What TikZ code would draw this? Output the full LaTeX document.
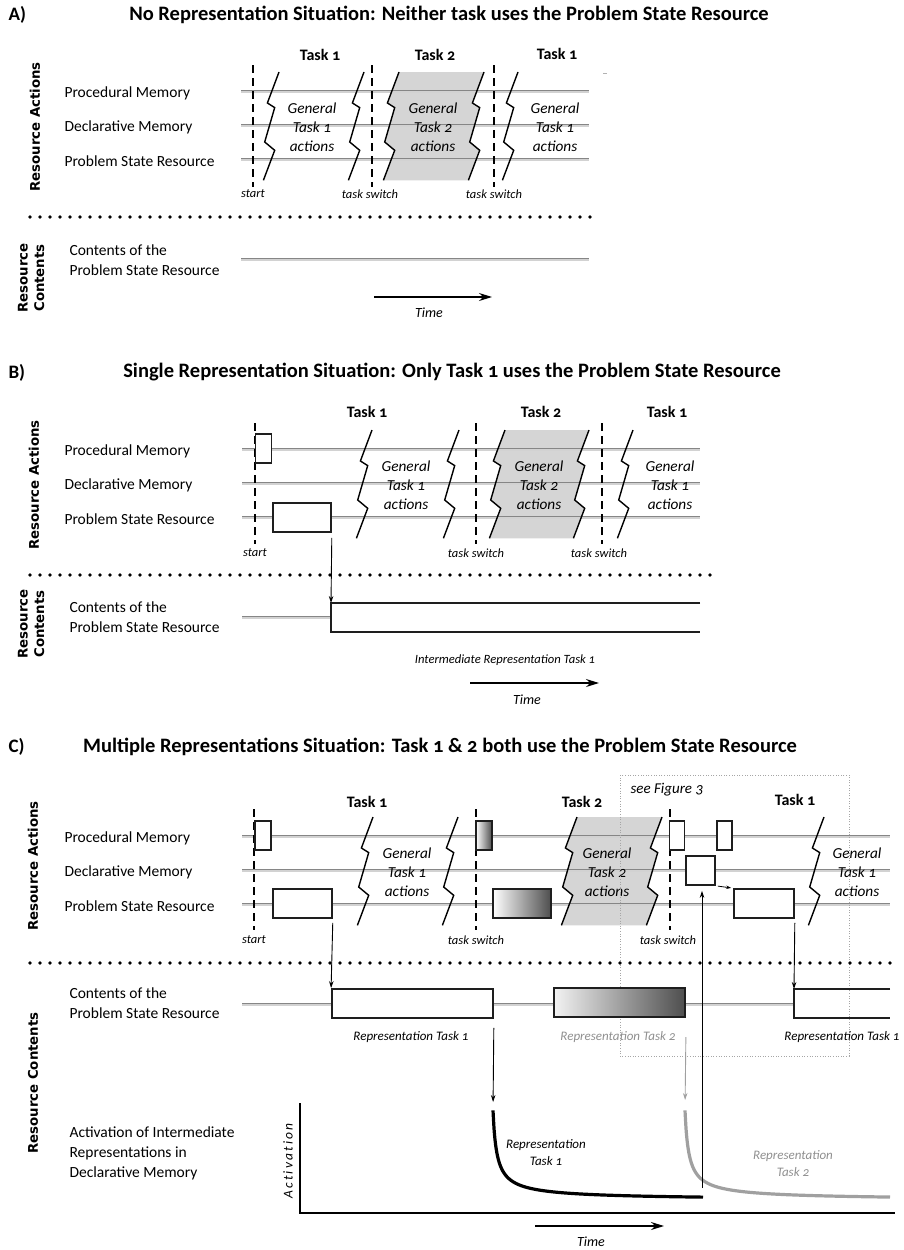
\documentclass[tikz,border=0pt]{standalone}
\usepackage{fontspec}
\setmainfont{Carlito}[Numbers=OldStyle]
\newfontfamily\sidefont{DejaVu Sans}
\usetikzlibrary{arrows.meta}

\definecolor{trackdark}{HTML}{868686}
\definecolor{tracklight}{HTML}{D2D2D2}
\definecolor{bandgray}{HTML}{D5D5D5}
\definecolor{fadegray}{HTML}{8F8F8F}
\definecolor{curvegray}{HTML}{A0A0A0}
\definecolor{shadeend}{HTML}{4E4E4E}
\definecolor{boxedge}{HTML}{1E1E1E}

\tikzset{
  trackdk/.style={draw=trackdark, line width=1.5pt},
  tracklt/.style={draw=tracklight, line width=1.8pt},
  brk/.style={draw=black, line width=1.4pt, line join=miter},
  switchline/.style={draw=black, line width=1.3pt, dash pattern=on 8pt off 5pt},
  actbox/.style={draw=boxedge, line width=1.7pt, fill=white, inner sep=0pt, minimum height=29pt},
  contedge/.style={draw=boxedge, line width=1.8pt},
  sepdots/.style={draw=black, line width=3.8pt, line cap=round, dash pattern=on 0pt off 10pt},
  seefig/.style={draw=gray!70, line width=0.9pt, dash pattern=on 1pt off 1.6pt},
  thinarrow/.style={draw=black, line width=0.9pt, -{Stealth[length=7pt,width=4.5pt]}},
  grayarrow/.style={draw=curvegray, line width=0.9pt, -{Stealth[length=7pt,width=4.5pt]}},
  smallarrow/.style={draw=black, line width=0.8pt, -{Stealth[length=5pt,width=3.5pt]}},
  timearrow/.style={draw=black, line width=1.4pt, -{Stealth[length=13pt,width=8pt]}},
  axisline/.style={draw=black, line width=1.6pt},
  decay/.style={line width=3.2pt, line cap=butt},
  paneltitle/.style={font=\bfseries\fontsize{20.5}{23}\selectfont},
  panelletter/.style={font=\bfseries\fontsize{19}{22}\selectfont, anchor=west},
  taskhd/.style={font=\bfseries\fontsize{16}{19}\selectfont},
  rowlab/.style={font=\fontsize{15.5}{20}\selectfont, anchor=west, align=left},
  general/.style={font=\itshape\fontsize{15.3}{19}\selectfont, align=center},
  eventlab/.style={font=\itshape\fontsize{12.5}{15}\selectfont},
  timelab/.style={font=\itshape\fontsize{14}{16}\selectfont},
  replab/.style={font=\itshape\fontsize{13}{17}\selectfont, align=center},
  sidelab/.style={font=\sidefont\bfseries\fontsize{13.3}{16.5}\selectfont, rotate=90, align=center},
}

% a time line of one resource: dark line with a light band under it
\newcommand{\rowtrack}[3]{%
  \draw[tracklt] (#1,{#3+1.2}) -- (#2,{#3+1.2});
  \draw[trackdk] (#1,{#3-0.4}) -- (#2,{#3-0.4});}
% break mark between stretches of general task actions, given by its top point
\newcommand{\breakmark}[2]{%
  \draw[brk] (#1,#2) -- ++(-11.6,31) -- ++(7.3,4.6) -- ++(-10,34.4) -- ++(10,8.3) -- ++(-11.3,30);}
% shaded stretch of task 2 between two break marks
\newcommand{\taskband}[3]{%
  \fill[bandgray] (#1,#3) -- ++(-11.6,31) -- ++(7.3,4.6) -- ++(-10,34.4) -- ++(10,8.3) -- ++(-11.3,30)
    -- ({#2-15.6},{#3+108.3}) -- ++(11.3,-30) -- ++(-10,-8.3) -- ++(10,-34.4) -- ++(-7.3,-4.6) -- ++(11.6,-31) -- cycle;}

\begin{document}
\begin{tikzpicture}[x=1pt,y=-1pt]
\useasboundingbox (0,0) rectangle (904,1250);

%%%%%%%%%%%%%%%%%%%% A %%%%%%%%%%%%%%%%%%%%
\node[panelletter] (labA) at (5,15) {A)};
\node[paneltitle] (titleA) at (449,15) {No Representation Situation: Neither task uses the Problem State Resource};

\taskband{399}{484}{72}
\rowtrack{241}{589}{91}
\rowtrack{241}{589}{125}
\rowtrack{241}{589}{159}
\draw[switchline] (253,65) -- (253,187);
\draw[switchline] (372,65) -- (372,187);
\draw[switchline] (494,65) -- (494,187);
\breakmark{279}{72}
\breakmark{364}{72}
\breakmark{399}{72}
\breakmark{484}{72}
\breakmark{518}{72}
\draw[gray!60, line width=0.8pt] (603,73) -- (607,73);

\node[taskhd] (hdA1) at (320,55) {Task 1};
\node[taskhd] (hdA2) at (435,55) {Task 2};
\node[taskhd] (hdA3) at (557,54) {Task 1};
\node[rowlab] (procA) at (61,93) {Procedural Memory};
\node[rowlab] (declA) at (61,127) {Declarative Memory};
\node[rowlab] (psrA) at (61,161) {Problem State Resource};
\node[general] (genA1) at (312,127) {General\\Task 1\\actions};
\node[general] (genA2) at (433,127) {General\\Task 2\\actions};
\node[general] (genA3) at (555,127) {General\\Task 1\\actions};
\node[eventlab] (startA) at (253,194) {start};
\node[eventlab] (swA1) at (370,194) {task switch};
\node[eventlab] (swA2) at (494,194) {task switch};
\node[sidelab] (sideA1) at (35,127) {Resource Actions};

\draw[sepdots] (30,217) -- (600,217);

\node[sidelab] (sideA2) at (31,278) {Resource\\Contents};
\node[rowlab] (contA) at (66,260) {Contents of the\\Problem State Resource};
\rowtrack{241}{589}{259}
\coordinate (tA0) at (374,297);
\coordinate (tA1) at (492,297);
\draw[timearrow] (tA0) -- (tA1);
\node[timelab] (timeA) at (429,313) {Time};

%%%%%%%%%%%%%%%%%%%% B %%%%%%%%%%%%%%%%%%%%
\node[panelletter] (labB) at (5,373) {B)};
\node[paneltitle] (titleB) at (452,372) {Single Representation Situation: Only Task 1 uses the Problem State Resource};

\taskband{505}{589}{430}
\rowtrack{242}{700}{449}
\rowtrack{242}{700}{483}
\rowtrack{242}{700}{517}
\draw[switchline] (255,423) -- (255,544);
\draw[switchline] (476,423) -- (476,544);
\draw[switchline] (602,423) -- (602,544);
\breakmark{372}{430}
\breakmark{459}{430}
\breakmark{505}{430}
\breakmark{589}{430}
\breakmark{633}{430}

\node[actbox, minimum width=16pt] (pmB1) at (263.5,448.5) {};
\node[actbox, minimum width=58pt] (psB1) at (302,517.5) {};

\node[taskhd] (hdB1) at (367,412) {Task 1};
\node[taskhd] (hdB2) at (541,412) {Task 2};
\node[taskhd] (hdB3) at (667,412) {Task 1};
\node[rowlab] (procB) at (61,451) {Procedural Memory};
\node[rowlab] (declB) at (61,485) {Declarative Memory};
\node[rowlab] (psrB) at (61,519) {Problem State Resource};
\node[general] (genB1) at (406,485) {General\\Task 1\\actions};
\node[general] (genB2) at (539,485) {General\\Task 2\\actions};
\node[general] (genB3) at (670,485) {General\\Task 1\\actions};
\node[eventlab] (startB) at (255,553) {start};
\node[eventlab] (swB1) at (476,553) {task switch};
\node[eventlab] (swB2) at (599,553) {task switch};
\node[sidelab] (sideB1) at (34,485) {Resource Actions};

\draw[sepdots] (30,575) -- (712,575);

\node[sidelab] (sideB2) at (31,624) {Resource\\Contents};
\node[rowlab] (contB) at (66,617) {Contents of the\\Problem State Resource};
\rowtrack{242}{331}{617}
\draw[contedge] (700,603) -- (331,603) -- (331,632) -- (700,632);
\coordinate (cB) at (331,603);
\draw[thinarrow, shorten <=5pt] (psB1.south east) -- (cB);
\node[replab, font=\itshape\fontsize{12.6}{16}\selectfont] (repB) at (505,660) {Intermediate Representation Task 1};
\coordinate (tB0) at (470,683);
\coordinate (tB1) at (599,683);
\draw[timearrow] (tB0) -- (tB1);
\node[timelab] (timeB) at (527,700) {Time};

%%%%%%%%%%%%%%%%%%%% C %%%%%%%%%%%%%%%%%%%%
\node[panelletter] (labC) at (5,747) {C)};
\node[paneltitle] (titleC) at (440,747) {Multiple Representations Situation: Task 1 \& 2 both use the Problem State Resource};

\taskband{577}{662}{817}
\rowtrack{242}{890}{836}
\rowtrack{242}{890}{870}
\rowtrack{242}{890}{904}
\draw[switchline] (254,809) -- (254,930);
\draw[switchline] (476,809) -- (476,930);
\draw[switchline] (670,809) -- (670,930);
\breakmark{373}{817}
\breakmark{458}{817}
\breakmark{577}{817}
\breakmark{662}{817}
\breakmark{824}{817}

\node[actbox, minimum width=16pt] (pmC1) at (263,835.5) {};
\node[actbox, minimum width=16pt, left color=white, right color=shadeend] (pmC2) at (484,835.5) {};
\node[actbox, minimum width=15pt] (pmC3) at (677,835.5) {};
\node[actbox, minimum width=15pt] (pmC4) at (724.5,835.5) {};
\node[actbox, minimum width=29pt] (dmC) at (700.5,870.5) {};
\node[actbox, minimum width=59pt] (psC1) at (302.5,903.5) {};
\node[actbox, minimum width=58pt, left color=white, right color=shadeend] (psC2) at (522,903.5) {};
\node[actbox, minimum width=60pt] (psC3) at (764,903.5) {};
\draw[smallarrow, shorten <=2pt, shorten >=2pt] (dmC.south east) -- (psC3.north west);

\node[taskhd] (hdC1) at (367,802) {Task 1};
\node[taskhd] (hdC2) at (582,802) {Task 2};
\node[taskhd] (hdC3) at (795,800) {Task 1};
\node[rowlab] (procC) at (61,838) {Procedural Memory};
\node[rowlab] (declC) at (61,872) {Declarative Memory};
\node[rowlab] (psrC) at (61,906) {Problem State Resource};
\node[general] (genC1) at (407,872) {General\\Task 1\\actions};
\node[general] (genC2) at (607,872) {General\\Task 2\\actions};
\node[general] (genC3) at (857,872) {General\\Task 1\\actions};
\node[eventlab] (startC) at (254,940) {start};
\node[eventlab] (swC1) at (476,940) {task switch};
\node[eventlab] (swC2) at (668,940) {task switch};
\node[sidelab] (sideC1) at (33,866) {Resource Actions};

% region that is shown in detail elsewhere
\draw[seefig] (620,775) rectangle (849,1056);
\node[font=\itshape\fontsize{15}{17}\selectfont, anchor=west] (seeC) at (627,790) {see Figure 3};

\draw[sepdots] (30,963) -- (897,963);

\node[sidelab] (sideC2) at (33,1083) {Resource Contents};
\node[rowlab] (contC) at (66,1003) {Contents of the\\Problem State Resource};
\rowtrack{242}{794}{1004}
\node[actbox, contedge, minimum width=161pt] (cC1) at (412.5,1003.5) {};
\node[actbox, line width=2.2pt, minimum width=131pt, left color=black!5, right color=shadeend] (cC2) at (619.5,1002.5) {};
\draw[contedge] (890,989) -- (794,989) -- (794,1018) -- (890,1018);
\coordinate (cC3) at (794,989);
\draw[thinarrow, shorten <=4pt] (psC1.south east) -- (cC1.north west);
\draw[thinarrow, shorten <=4pt] (psC3.south east) -- (cC3);
\node[replab] (repC1) at (411,1037) {Representation Task 1};
\node[replab, text=fadegray] (repC2) at (618,1037) {Representation Task 2};
\node[replab] (repC3) at (842,1037) {Representation Task 1};

% activation of the stored representations
\node[rowlab] (actC) at (66,1153) {Activation of Intermediate\\Representations in\\Declarative Memory};
\draw[axisline] (300,1103) -- (300,1213) -- (895,1213);
\node[font=\itshape\fontsize{13.5}{15}\selectfont, rotate=90] (actax) at (288,1161) {A\,c\,t\,i\,v\,a\,t\,i\,o\,n};
\coordinate (k1) at (493,1110);
\coordinate (k2) at (685,1110);
\draw[decay, black] plot[domain=0:210, samples=200, smooth] ({493+\x},{1200.5-210/((\x+3)^0.77)});
\draw[decay, curvegray] plot[domain=0:205, samples=200, smooth] ({685+\x},{1200.5-210/((\x+3)^0.77)});
\draw[thinarrow, shorten <=9pt, shorten >=8pt] (cC1.south east) -- (k1);
\draw[grayarrow, shorten <=19pt, shorten >=10pt] (cC2.south east) -- (k2);
\coordinate (upfoot) at (702,1188);
\draw[thinarrow, shorten >=5pt] (upfoot) -- (upfoot |- dmC.south);
\node[replab] (curveC1) at (546,1153) {Representation\\Task 1};
\node[replab, text=fadegray] (curveC2) at (793,1164) {Representation\\Task 2};
\coordinate (tC0) at (535,1226);
\coordinate (tC1) at (664,1226);
\draw[timearrow] (tC0) -- (tC1);
\node[timelab] (timeC) at (591,1242) {Time};
\end{tikzpicture}
\end{document}
